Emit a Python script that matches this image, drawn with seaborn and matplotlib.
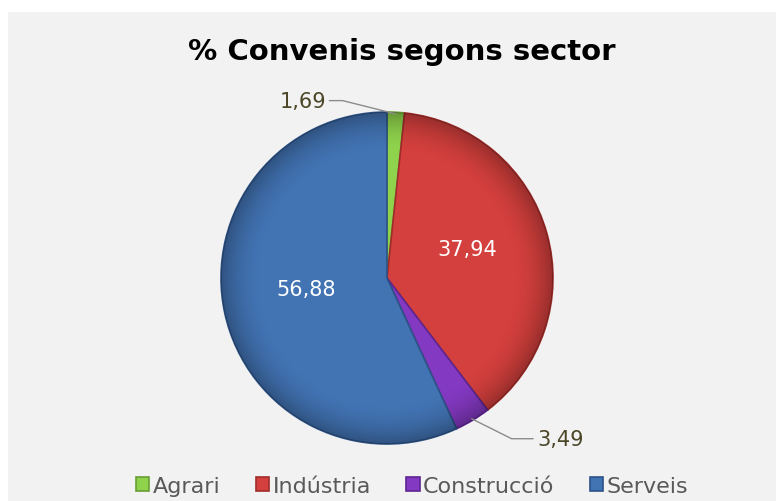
import numpy as np
import matplotlib
matplotlib.use("Agg")
import matplotlib.pyplot as plt
import seaborn as sns

# data
sectors = ["Agrari", "Indústria", "Construcció", "Serveis"]
values = [1.69, 37.94, 3.49, 56.88]
value_labels = ["1,69", "37,94", "3,49", "56,88"]
colors = ["#8fd34c", "#d4403d", "#8439c2", "#4273b3"]
edges = ["#6a9e35", "#9e2c2a", "#5e2590", "#2d5286"]

sns.set_theme(style="white")
plt.rcParams["font.family"] = ["DejaVu Sans"]

W, H = 776, 502
fig = plt.figure(figsize=(W / 100, H / 100), dpi=100)
fig.patch.set_facecolor("white")
# gray chart area
fig.patches.append(plt.Rectangle((8 / W, 0), 1, 1 - 13 / H, transform=fig.transFigure,
                                 facecolor="#f2f2f2", edgecolor="none", zorder=-5))

fig.text(402 / W, 1 - 52 / H, "% Convenis segons sector", ha="center", va="center",
         fontsize=21, fontweight="bold", color="black")

cx, cy, r = 387, 279, 166
ax = fig.add_axes([(cx - r) / W, 1 - (cy + r) / H, 2 * r / W, 2 * r / H])
ax.set_facecolor("none")
wedges, _ = ax.pie(values, colors=colors, startangle=90, counterclock=False,
                   wedgeprops=dict(linewidth=1.2))
for w, e in zip(wedges, edges):
    w.set_edgecolor(e)

# soft darkening toward the rim (excel-like bevel)
g = np.linspace(-1, 1, 300)
gx, gy = np.meshgrid(g, g)
rr = np.sqrt(gx ** 2 + gy ** 2)
shade = np.zeros((300, 300, 4))
shade[..., 3] = np.clip((rr - 0.75) / 0.25, 0, 1) ** 2 * 0.28
img = ax.imshow(shade, extent=(-1, 1, -1, 1), zorder=3, interpolation="bilinear")
img.set_clip_path(plt.Circle((0, 0), 1, transform=ax.transData))

ax.set_xlim(-1, 1)
ax.set_ylim(-1, 1)
ax.axis("off")

# labels
for i, w in enumerate(wedges):
    ang = np.deg2rad((w.theta1 + w.theta2) / 2)
    x, y = np.cos(ang), np.sin(ang)
    if values[i] > 10:
        ax.text(0.5 * x, 0.5 * y + 0.04, value_labels[i], ha="center", va="center",
                fontsize=15, color="white", zorder=5)
    else:
        px, py = 0.99 * x, 0.99 * y
        if y > 0:
            tx, ty = px - 0.4, py + 0.08
            ax.plot([px, tx + 0.08, tx], [py, ty, ty], color="#8c8c8c", lw=1, clip_on=False, zorder=5)
            ax.text(tx - 0.02, ty, value_labels[i], ha="right", va="center",
                    fontsize=15, color="#4b4628")
        else:
            tx, ty = px + 0.37, py - 0.12
            ax.plot([px, tx - 0.13, tx], [py, ty, ty], color="#8c8c8c", lw=1, clip_on=False, zorder=5)
            ax.text(tx + 0.025, ty, value_labels[i], ha="left", va="center",
                    fontsize=15, color="#4b4628")

fig.legend(wedges, sectors, loc="center", bbox_to_anchor=(412 / W, 1 - 487 / H),
           ncol=4, frameon=False, fontsize=16, handlelength=0.6, handleheight=0.6,
           handletextpad=0.15, columnspacing=1.6, labelcolor="#595959")

fig.savefig("out.png", dpi=100)
